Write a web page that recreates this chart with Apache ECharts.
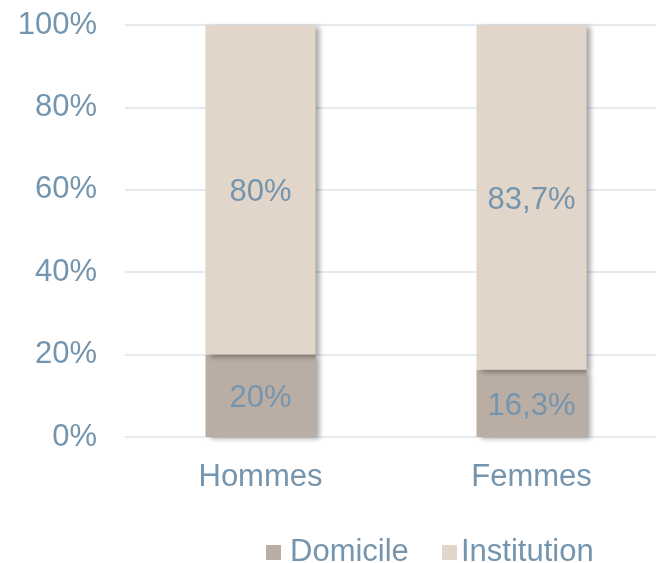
<!DOCTYPE html>
<html><head><meta charset="utf-8">
<script src="https://cdn.jsdelivr.net/npm/echarts@6/dist/echarts.min.js"></script>
<style>html,body{margin:0;padding:0;background:#fff}#c{width:656px;height:563px}</style>
</head><body><div id="c"></div>
<script>
const categories = ['Hommes', 'Femmes'];
const domicile = [20, 16.3];
const institution = [80, 83.7];
const domicileLabels = ['20%', '16,3%'];
const institutionLabels = ['80%', '83,7%'];
const yTicks = [0, 20, 40, 60, 80, 100];

const txt = '#7595AE';
const font = 'Liberation Sans, Arial, sans-serif';
const chart = echarts.init(document.getElementById('c'), null, {renderer: 'canvas'});
const shadow = {shadowColor: 'rgba(0,0,0,0.35)', shadowBlur: 5, shadowOffsetX: 4, shadowOffsetY: 2};
const legendBase = {top: 537, padding: 0, itemWidth: 15, itemHeight: 15, icon: 'rect', outerBoundsMode: 'none'};
chart.setOption({
  animation: false,
  grid: {left: 125, width: 542, top: 25, bottom: 126, containLabel: false, outerBoundsMode: 'none'},
  legend: [
    Object.assign({}, legendBase, {data: ['Domicile'], left: 266,
      textStyle: {color: txt, fontSize: 31, fontFamily: font, padding: [0, 0, 0, 4]}}),
    Object.assign({}, legendBase, {data: ['Institution'], left: 442,
      textStyle: {color: txt, fontSize: 31, fontFamily: font, padding: [0, 0, 0, -1]}})
  ],
  xAxis: {
    type: 'category', data: categories,
    axisLine: {show: false}, axisTick: {show: false},
    axisLabel: {color: txt, fontSize: 31, fontFamily: font, margin: 25}
  },
  yAxis: {
    type: 'value', min: yTicks[0], max: yTicks[yTicks.length - 1], interval: 20,
    axisLine: {show: false}, axisTick: {show: false},
    splitLine: {lineStyle: {color: '#DDE3EA', width: 1.5}},
    axisLabel: {color: txt, fontSize: 31, fontFamily: font, margin: 28, padding: [5, 0, 0, 0], formatter: v => v + '%'}
  },
  series: [
    {
      name: 'Domicile', type: 'bar', stack: 's', barWidth: 110, data: domicile,
      itemStyle: Object.assign({color: '#BAADA3'}, shadow),
      label: {show: true, position: 'inside', offset: [0, 3], color: txt, fontSize: 31, fontFamily: font,
        formatter: p => domicileLabels[p.dataIndex]}
    },
    {
      name: 'Institution', type: 'bar', stack: 's', barWidth: 110, data: institution,
      itemStyle: Object.assign({color: '#E2D5C9'}, shadow),
      label: {show: true, position: 'inside', offset: [0, 3], color: txt, fontSize: 31, fontFamily: font,
        formatter: p => institutionLabels[p.dataIndex]}
    }
  ]
});
</script></body></html>
